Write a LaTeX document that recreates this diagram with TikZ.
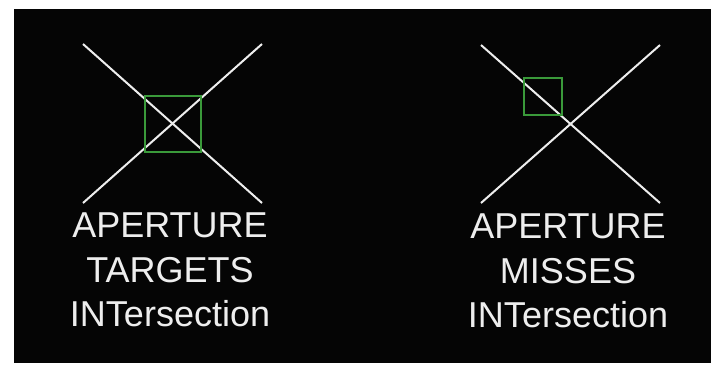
\documentclass[tikz,border=0pt]{standalone}
\usepackage{fontspec}
\setmainfont{Liberation Sans}
\usetikzlibrary{positioning}
\definecolor{screen}{HTML}{050505}
\definecolor{wire}{HTML}{EEEEEE}
\definecolor{aperture}{HTML}{3A9A3A}

\begin{document}
\begin{tikzpicture}[
    x=1pt, y=-1pt,
    wireline/.style={draw=wire, line width=2pt},
    apbox/.style={rectangle, draw=aperture, line width=1.6pt, inner sep=0pt},
    caption/.style={font=\fontsize{36}{44.5}\selectfont, text=wire, align=center,
                    anchor=north, inner sep=0pt},
]
    % page and screen
    \useasboundingbox (0,0) rectangle (718,373);
    \fill[white] (0,0) rectangle (718,373);
    \fill[screen] (14,9) rectangle (711,363);

    % left cross
    \coordinate (ltl) at (83,44);
    \coordinate (ltr) at (262,44);
    \coordinate (lbl) at (83,203);
    \coordinate (lbr) at (262,203);
    \draw[wireline] (ltl) -- (lbr);
    \draw[wireline] (ltr) -- (lbl);
    \node[apbox, minimum width=56pt, minimum height=56pt] (lbox) at (173,124) {};

    % right cross
    \coordinate (rtl) at (481,45);
    \coordinate (rtr) at (660,45);
    \coordinate (rbl) at (481,203);
    \coordinate (rbr) at (660,203);
    \draw[wireline] (rtl) -- (rbr);
    \draw[wireline] (rtr) -- (rbl);
    \node[apbox, minimum width=38pt, minimum height=37pt] (rbox) at (543,96.5) {};

    % captions
    \node[caption] (lcap) at (170,213) {APERTURE\\TARGETS\\INTersection};
    \node[caption] (rcap) at (568,214) {APERTURE\\MISSES\\INTersection};

\end{tikzpicture}
\end{document}
